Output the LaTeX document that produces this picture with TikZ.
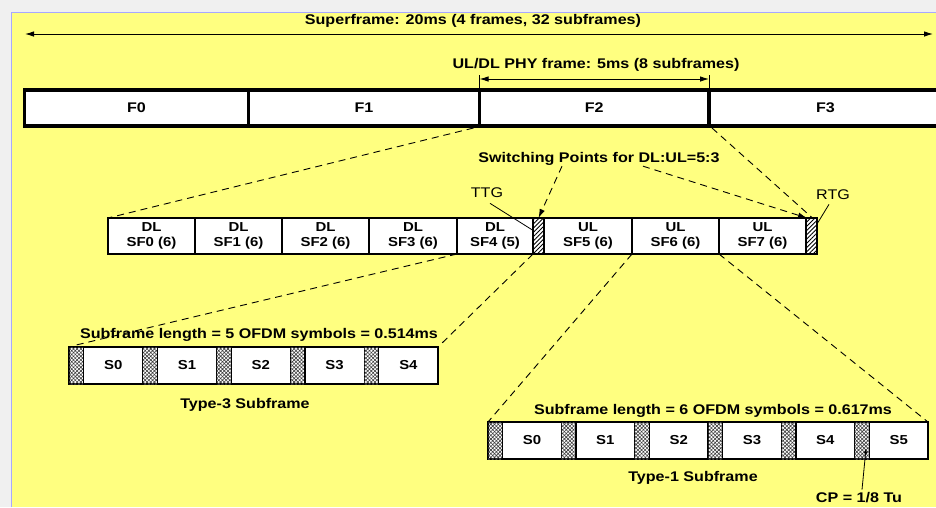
\documentclass[tikz,border=0pt]{standalone}
\usepackage{fontspec}
\setmainfont{Liberation Sans}[FakeStretch=1.15]
\usetikzlibrary{calc,arrows.meta,positioning,patterns,patterns.meta}

\definecolor{pagegray}{RGB}{240,240,240}
\definecolor{sheet}{RGB}{255,255,128}
\definecolor{sheetedge}{RGB}{168,168,255}

\begin{document}
\begin{tikzpicture}[x=1pt,y=-1pt,>={Latex[length=9pt,width=5.5pt]},
    lbl/.style={font=\fontsize{14}{15}\selectfont\bfseries,inner sep=0pt,anchor=base},
    plainlbl/.style={font=\fontsize{14}{15}\selectfont,inner sep=0pt,anchor=base},
    frame/.style={draw,fill=white,line width=3.5pt,inner sep=0pt,outer sep=0pt,
      minimum height=36pt,font=\fontsize{14}{15}\selectfont\bfseries},
    cell/.style={draw,fill=white,line width=1.1pt,inner sep=0pt,outer sep=0pt,
      align=center,font=\fontsize{13}{15}\selectfont\bfseries},
    gapbox/.style={cell,postaction={pattern={Lines[angle=45,distance=3pt,line width=0.9pt]}}},
    cpbox/.style={cell,postaction={pattern={Hatch[angle=45,distance=2.6pt,line width=0.6pt]},
      pattern color=black!75}},
    zoomline/.style={dash pattern=on 7pt off 5pt,line width=0.9pt},
    dim/.style={line width=0.9pt}]
  \useasboundingbox (0,0) rectangle (936,507);
  \clip (0,0) rectangle (936,507);
  \fill[pagegray] (0,0) rectangle (936,507);
  \fill[sheet] (11,12) rectangle (936,507);
  \draw[sheetedge] (11.5,507) -- (11.5,12.5) -- (936,12.5);

  % superframe
  \coordinate (sup-l) at (25,34);
  \coordinate (sup-r) at (933,34);
  \draw[dim,<->] (sup-l) -- (sup-r);
  \node[lbl] (super) at (473,24) {Superframe: 20ms (4 frames, 32 subframes)};

  % frames
  \foreach \n/\xa/\xb in {0/24.5/248.5,1/248.5/479.5,2/479.5/709,3/709/942}
    \node[frame,minimum width={(\xb-\xa)*1pt},anchor=north west] (f\n) at (\xa,90) {F\n};

  % PHY frame
  \draw[dim] (f2.north west) -- ++(0,-15) coordinate (phy-l);
  \draw[dim] (f2.north east) -- ++(0,-15) coordinate (phy-r);
  \draw[dim,<->] ($(phy-l)+(0,4)$) -- ($(phy-r)+(0,4)$);
  \node[lbl] (phy) at (596,68) {UL/DL PHY frame: 5ms (8 subframes)};

  % subframes of F2
  \foreach \n/\xa/\xb/\t in {0/108/195/{DL\\SF0 (6)},1/195/282/{DL\\SF1 (6)},
      2/282/369/{DL\\SF2 (6)},3/369/457/{DL\\SF3 (6)},4/457/533/{DL\\SF4 (5)},
      5/544/632/{UL\\SF5 (6)},6/632/719/{UL\\SF6 (6)},7/719/806/{UL\\SF7 (6)}}
    \node[cell,minimum width={(\xb-\xa)*1pt},minimum height=36pt,anchor=north west]
      (sf\n) at (\xa,218) {\t};
  \node[gapbox,minimum width=11pt,minimum height=36pt,anchor=north west] (ttg) at (533,218) {};
  \node[gapbox,minimum width=11pt,minimum height=36pt,anchor=north west] (rtg) at (806,218) {};

  \draw[zoomline] ($(f2.south west)+(-6,2)$) -- (sf0.north west);
  \draw[zoomline] ($(f2.south east)+(3,2)$) -- ($(rtg.north)+(1,0)$);

  % switching points
  \node[lbl] (sw) at (599,162) {Switching Points for DL:UL=5:3};
  \draw[zoomline,->] ($(sw.south)+(-37,1)$) -- (ttg.north);
  \draw[zoomline,->] ($(sw.south)+(44,1)$) -- ($(rtg.north west)+(1,0)$);
  \node[plainlbl] (ttglbl) at (487,197) {TTG};
  \node[plainlbl] (rtglbl) at (833,199) {RTG};
  \draw[line width=0.8pt] ($(ttglbl.south)+(3,6)$) -- ($(ttg.west)+(1,-5)$);
  \draw[line width=0.8pt] ($(rtglbl.south)+(-4,5)$) -- ($(rtg.east)+(0,-12)$);

  % type-3 subframe
  \foreach \i in {0,...,4} {
    \node[cpbox,minimum width=14.6pt,minimum height=37pt,anchor=north west]
      (a-cp\i) at ({69+73.8*\i},347) {};
    \node[cell,minimum width=59.2pt,minimum height=37pt,anchor=north west]
      (a-s\i) at ({83.6+73.8*\i},347) {S\i};
  }
  \node[lbl] (alen) at (259,338) {Subframe length = 5 OFDM symbols = 0.514ms};
  \node[lbl] (atype) at (245,408) {Type-3 Subframe};
  \draw[zoomline] (sf4.south west) -- ($(a-cp0.north west)+(3,-1)$);
  \draw[zoomline] (ttg.south west) -- (a-s4.north east);

  % type-1 subframe
  \foreach \i in {0,...,5} {
    \node[cpbox,minimum width=14.7pt,minimum height=37pt,anchor=north west]
      (b-cp\i) at ({488+73.33*\i},422) {};
    \node[cell,minimum width=58.63pt,minimum height=37pt,anchor=north west]
      (b-s\i) at ({502.7+73.33*\i},422) {S\i};
  }
  \node[lbl] (blen) at (713,414) {Subframe length = 6 OFDM symbols = 0.617ms};
  \node[lbl] (btype) at (693,481) {Type-1 Subframe};
  \draw[zoomline] (sf6.south west) -- (b-cp0.north west);
  \draw[zoomline] (sf6.south east) -- (b-s5.north east);

  % cyclic prefix
  \node[lbl] (cplbl) at (859,502) {CP = 1/8 Tu};
  \draw[line width=0.8pt,-{Latex[length=5pt,width=3.5pt]}] ($(cplbl.north)+(3,-2)$) -- ($(b-cp5.center)+(4,8)$);
\end{tikzpicture}
\end{document}
